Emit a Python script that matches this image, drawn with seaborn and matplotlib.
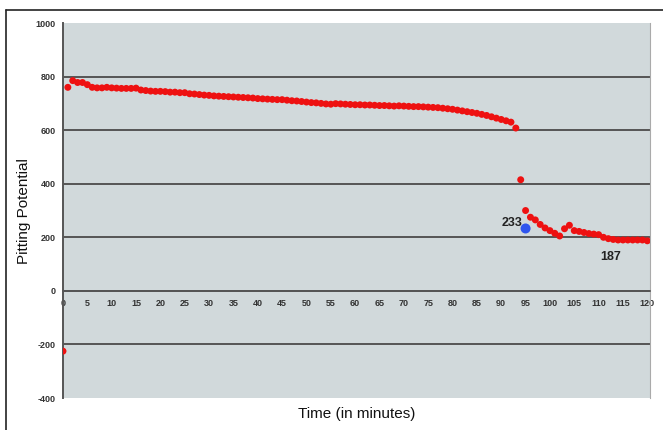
import matplotlib
matplotlib.use("Agg")
import matplotlib.pyplot as plt
import seaborn as sns
import pandas as pd
from matplotlib.ticker import MultipleLocator

minutes = list(range(0, 121))
potential = [
    -225, 760, 785, 778, 778, 770, 760, 758, 758, 760,
    758, 757, 756, 756, 756, 757, 750, 748, 746, 745,
    745, 744, 742, 742, 740, 740, 736, 735, 733, 731,
    730, 728, 727, 726, 725, 724, 723, 722, 721, 720,
    718, 717, 716, 715, 714, 714, 712, 710, 709, 707,
    705, 703, 702, 700, 698, 697, 699, 698, 697, 696,
    695, 695, 694, 694, 693, 692, 692, 691, 690, 691,
    690, 689, 688, 688, 687, 686, 685, 684, 682, 680,
    678, 675, 672, 669, 666, 663, 659, 655, 650, 645,
    640, 635, 630, 608, 415, 300, 275, 265, 248, 235,
    225, 215, 205, 232, 245, 225, 222, 218, 214, 212,
    210, 200, 195, 192, 190, 190, 190, 190, 190, 190,
    187,
]
highlight_x = [95]
highlight_y = [233]
label_233 = "233"
label_187 = "187"
x_ticks = list(range(0, 121, 5))
y_ticks = [-400, -200, 0, 200, 400, 600, 800, 1000]

sns.set_style("white")
plt.rcParams["font.family"] = ["Liberation Sans", "DejaVu Sans"]

df = pd.DataFrame({"Time": minutes, "Potential": potential})
hl = pd.DataFrame({"Time": highlight_x, "Potential": highlight_y})

fig = plt.figure(figsize=(6.63, 4.30), dpi=100)
fig.patch.set_facecolor("white")
ax = fig.add_axes([0.095, 0.0744, 0.885, 0.872])
ax.set_facecolor("#d1d9db")

for yv in y_ticks:
    if yv in (-400, 1000):
        continue
    ax.axhline(yv, color="#555555", lw=1.4, zorder=1)

sns.scatterplot(data=df, x="Time", y="Potential", ax=ax, color="#ee1111",
                s=25, edgecolor="none", zorder=3, legend=False)
sns.scatterplot(data=hl, x="Time", y="Potential", ax=ax, color="#2f55ee",
                s=52, edgecolor="none", zorder=4, legend=False)

ax.set_xlim(0, 120.5)
ax.set_ylim(-400, 1000)
ax.set_yticks(y_ticks)
ax.set_yticklabels([str(v) for v in y_ticks], fontsize=6.5, fontweight="bold", color="#333333")

ax.spines["bottom"].set_position(("data", 0))
ax.spines["bottom"].set_color("#555555")
ax.spines["bottom"].set_linewidth(1.2)
ax.spines["left"].set_color("#555555")
ax.spines["left"].set_linewidth(1.4)
ax.spines["top"].set_visible(False)
ax.spines["right"].set_color("#aaaaaa")
ax.spines["right"].set_linewidth(0.8)

ax.set_xticks(x_ticks)
ax.set_xticklabels([str(v) for v in x_ticks], fontsize=6.5, fontweight="bold", color="#333333")
ax.xaxis.set_minor_locator(MultipleLocator(1))
ax.tick_params(axis="x", which="both", direction="out", length=3.5, width=0.8,
               color="#555555", pad=2)
ax.tick_params(axis="y", direction="out", length=3, width=0.8, color="#555555", pad=2)

ax.set_xlabel("")
ax.set_ylabel("")

ax.text(94.3, 233 + 20, label_233, fontsize=9, fontweight="bold", color="#222222",
        ha="right", va="center")
ax.text(112.5, 125, label_187, fontsize=9, fontweight="bold", color="#222222",
        ha="center", va="center")

fig.text(0.538, 0.037, "Time (in minutes)", fontsize=11, ha="center", va="center", color="#111111")
fig.text(0.036, 0.51, "Pitting Potential", fontsize=11, ha="center", va="center",
         rotation=90, color="#111111")

# frame lines around figure (top and left)
fig.add_artist(plt.Line2D([0.009, 1.0], [0.977, 0.977], color="#222222", lw=1.2,
                          transform=fig.transFigure))
fig.add_artist(plt.Line2D([0.009, 0.009], [0.0, 0.977], color="#222222", lw=1.2,
                          transform=fig.transFigure))

fig.savefig("out.png", dpi=100)
